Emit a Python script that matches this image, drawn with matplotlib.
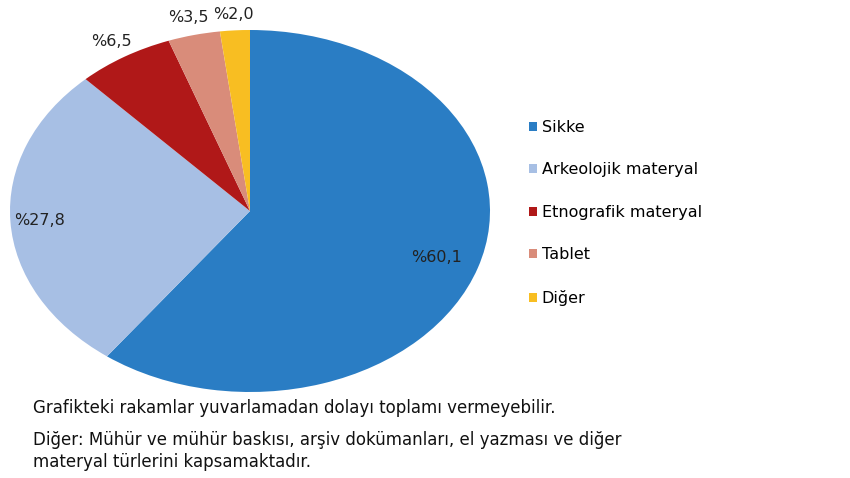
import matplotlib.pyplot as plt
import numpy as np

# data
categories = ["Sikke", "Arkeolojik materyal", "Etnografik materyal", "Tablet", "Diğer"]
shares = [60.1, 27.8, 6.5, 3.5, 2.0]
value_labels = ["%60,1", "%27,8", "%6,5", "%3,5", "%2,0"]
colors = ["#2A7DC4", "#A7BFE4", "#B01818", "#D98C7A", "#F8BE22"]
notes = [
    "Grafikteki rakamlar yuvarlamadan dolayı toplamı vermeyebilir.",
    "Diğer: Mühür ve mühür baskısı, arşiv dokümanları, el yazması ve diğer\nmateryal türlerini kapsamaktadır.",
]

plt.rcParams["font.family"] = ["DejaVu Sans"]

fig = plt.figure(figsize=(8.5, 4.78), dpi=100)
ax = fig.add_axes([10 / 850, 86 / 478, 480 / 850, 362 / 478])

wedges, _ = ax.pie(shares, colors=colors, startangle=90, counterclock=False,
                   wedgeprops=dict(linewidth=0))
ax.set_aspect("auto")
ax.set_xlim(-1, 1)
ax.set_ylim(-1, 1)

# label radii per slice (first two inside, small ones outside)
radii = [0.82, 0.88, 1.1, 1.1, 1.09]
for w, lab, r in zip(wedges, value_labels, radii):
    ang = np.deg2rad((w.theta1 + w.theta2) / 2)
    ax.text(r * np.cos(ang), r * np.sin(ang), lab, ha="center", va="center",
            fontsize=11.5, color="#222222")

fig.legend(wedges, categories, loc="upper left", bbox_to_anchor=(521 / 850, 1 - 112 / 478),
           frameon=False, fontsize=11.5, handlelength=0.5, handleheight=0.5,
           handletextpad=0.3, labelspacing=1.72, borderpad=0)

fig.text(33 / 850, 1 - 408 / 478, notes[0], fontsize=12, va="center", color="#111111")
fig.text(33 / 850, 1 - 451 / 478, notes[1], fontsize=12, va="center", color="#111111",
         linespacing=1.3)

fig.savefig("out.png", dpi=100)
